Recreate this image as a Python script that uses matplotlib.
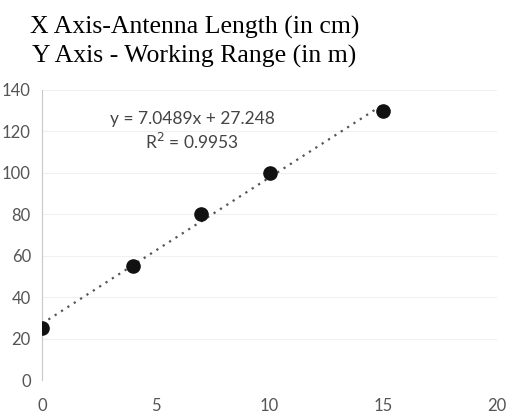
# Antenna length vs working range
import numpy as np
import matplotlib.pyplot as plt

# Data
antenna_cm = [0, 4, 7, 10, 15]
range_m = [25, 55, 80, 100, 130]
x_ticks = [0, 5, 10, 15, 20]
y_ticks = [0, 20, 40, 60, 80, 100, 120, 140]
equation = 'y = 7.0489x + 27.248'
r_squared = 'R$^2$ = 0.9953'

fig = plt.figure(figsize=(5.09, 4.2), dpi=100)
ax = fig.add_axes([0.0825, 0.095, 0.894, 0.691])

# Trendline (linear fit over the data range)
slope, intercept = np.polyfit(antenna_cm, range_m, 1)
xs = np.array([min(antenna_cm), max(antenna_cm)])
ax.plot(xs, slope * xs + intercept, linestyle=(0, (1, 2.4)), color='#555555',
        linewidth=1.6, zorder=2)

ax.plot(antenna_cm, range_m, 'o', color='#111111', markersize=9.5, zorder=3)

ax.text(6.6, 120, equation + '\n' + r_squared, ha='center', va='center',
        fontsize=12.5, family='Lato', color='#444444', linespacing=1.3)

ax.set_xlim(0, 20)
ax.set_ylim(0, 140)
ax.set_xticks(x_ticks)
ax.set_yticks(y_ticks)
ax.tick_params(length=0, labelsize=12, labelcolor='#555555')
ax.tick_params(axis='x', pad=13)
ax.tick_params(axis='y', pad=8)
for lab in ax.get_xticklabels() + ax.get_yticklabels():
    lab.set_family('Lato')

ax.grid(axis='y', color='#f0f0f0', linewidth=0.8)
for side in ['top', 'right', 'bottom']:
    ax.spines[side].set_visible(False)
ax.spines['left'].set_color('#c8c8c8')
ax.spines['left'].set_linewidth(0.8)

# Title, two lines
fig.text(0.058, 0.935, 'X Axis-Antenna Length (in cm)', fontsize=18.5,
         family='Liberation Serif', va='center', ha='left')
fig.text(0.062, 0.866, 'Y Axis - Working Range (in m)', fontsize=18.5,
         family='Liberation Serif', va='center', ha='left')

plt.savefig('out.png', dpi=100)
